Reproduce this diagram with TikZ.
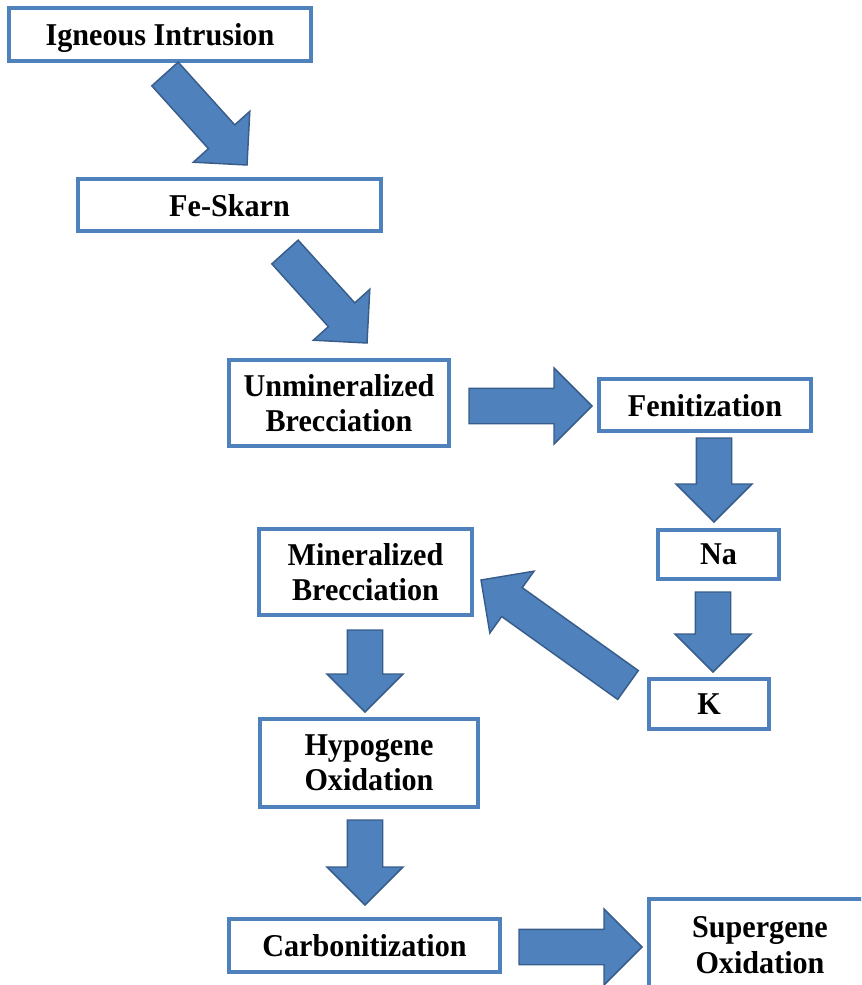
\documentclass[tikz,border=0pt]{standalone}
\usepackage{fontspec}
\setmainfont{Liberation Serif}[FakeStretch=0.95]
\usepackage{xcolor}
\usetikzlibrary{calc}

\definecolor{boxblue}{HTML}{4F81BD}
\definecolor{arrowedge}{HTML}{385D8A}

\tikzset{
    stage/.style={draw=boxblue, line width=3pt, fill=white, align=center, inner sep=0pt,
        text depth=0pt, font=\fontsize{23.8}{26.3}\selectfont\bfseries},
    barrow/.style={draw=arrowedge, fill=boxblue, line width=1.1pt, line join=miter}
}

% block arrow from tail #1 to tip #2
\newcommand{\blockarrow}[2]{%
    \coordinate (hb) at ($(#2)!28.5pt!(#1)$);
    \draw[barrow] ($(#1)!13.3pt!90:(#2)$) -- ($(hb)!13.3pt!90:(#2)$) -- ($(hb)!28.5pt!90:(#2)$)
        -- (#2) -- ($(hb)!28.5pt!-90:(#2)$) -- ($(hb)!13.3pt!-90:(#2)$) -- ($(#1)!13.3pt!-90:(#2)$) -- cycle;
}

\begin{document}
\begin{tikzpicture}[x=0.75pt,y=-0.75pt]
    \clip (0,0) rectangle (861,985);
    \fill[white] (0,0) rectangle (861,985);

    \node[stage, minimum width=226.5pt, minimum height=39.75pt] (IG) at (160,34.5) {Igneous Intrusion};
    \node[stage, minimum width=227.25pt, minimum height=39pt] (FS) at (229.5,205) {Fe-Skarn};
    \node[stage, minimum width=165pt, minimum height=64.5pt] (UB) at (339,403) {Unmineralized\\Brecciation};
    \node[stage, minimum width=159pt, minimum height=39pt] (FE) at (705,405) {Fenitization};
    \node[stage, minimum width=90.75pt, minimum height=36.75pt] (NA) at (718.5,554.5) {Na};
    \node[stage, minimum width=90pt, minimum height=37.5pt] (K) at (709,704) {K};
    \node[stage, minimum width=159.75pt, minimum height=64.5pt] (MB) at (365.5,572) {Mineralized\\Brecciation};
    \node[stage, minimum width=163.5pt, minimum height=66pt] (HO) at (369,763) {Hypogene\\Oxidation};
    \node[stage, minimum width=203.25pt, minimum height=39.75pt] (CA) at (364.5,945.5) {Carbonitization};
    \node[stage, minimum width=166.5pt, minimum height=69pt] (SO) at (760,945) {Supergene\\Oxidation};

    \coordinate (S1) at (165,74);
    \coordinate (E1) at (247,165);
    \coordinate (S2) at (285,252);
    \coordinate (E2) at (367,343);
    \coordinate (S3) at (469,406);
    \coordinate (E3) at (592,406);
    \coordinate (S4) at (714,438);
    \coordinate (E4) at (714,522);
    \coordinate (S5) at (713,592);
    \coordinate (E5) at (713,672);
    \coordinate (S6) at (628,685);
    \coordinate (E6) at (481,580);
    \coordinate (S7) at (365,630);
    \coordinate (E7) at (365,712);
    \coordinate (S8) at (365,820);
    \coordinate (E8) at (365,905);
    \coordinate (S9) at (519,947);
    \coordinate (E9) at (642,947);

    \blockarrow{S1}{E1}
    \blockarrow{S2}{E2}
    \blockarrow{S3}{E3}
    \blockarrow{S4}{E4}
    \blockarrow{S5}{E5}
    \blockarrow{S6}{E6}
    \blockarrow{S7}{E7}
    \blockarrow{S8}{E8}
    \blockarrow{S9}{E9}
\end{tikzpicture}
\end{document}
